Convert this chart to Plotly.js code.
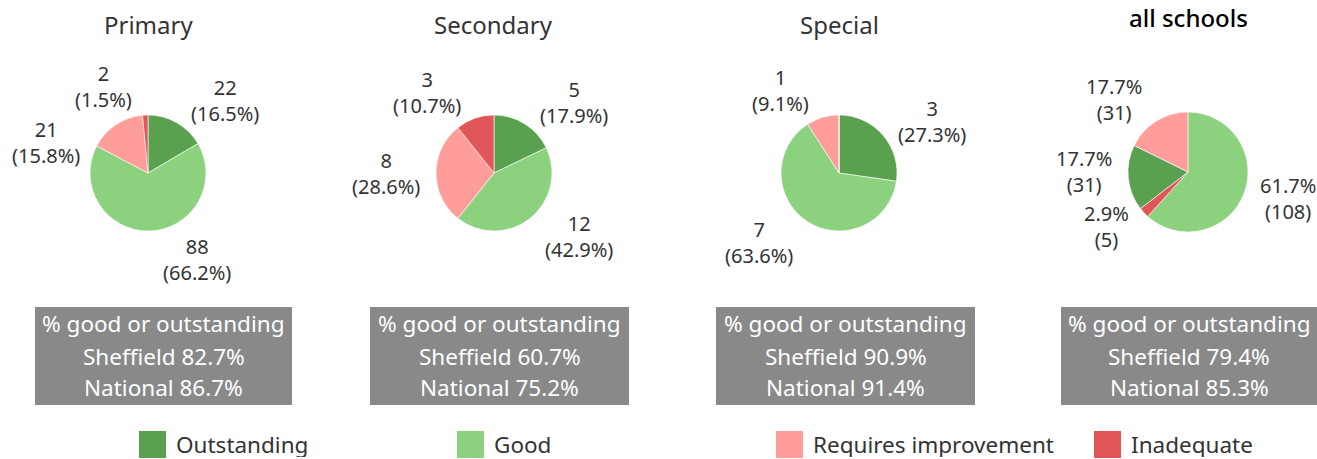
<!DOCTYPE html>
<html>
<head>
<meta charset="utf-8">
<script src="https://cdn.plot.ly/plotly-3.0.1.min.js"></script>
<style>
  html, body { margin: 0; padding: 0; background: #ffffff; }
  #chart { width: 1317px; height: 459px; }
</style>
</head>
<body>
<div id="chart"></div>
<script>
// ---------- data ----------
const categories = ["Outstanding", "Good", "Requires improvement", "Inadequate"];
const colors = ["#59a14f", "#8cd17d", "#ff9d9a", "#e15759"];

const panelTitles = ["Primary", "Secondary", "Special", "all schools"];

const primaryValues    = [22, 88, 21, 2];
const secondaryValues  = [5, 12, 8, 3];
const specialValues    = [3, 7, 1, 0];
const allSchoolsValues = [31, 108, 31, 5];

// slice order (clockwise from 12 o'clock) for the "all schools" pie
const allSchoolsOrder = ["Good", "Inadequate", "Outstanding", "Requires improvement"];

const sheffieldPct = ["82.7%", "60.7%", "90.9%", "79.4%"];
const nationalPct  = ["86.7%", "75.2%", "91.4%", "85.3%"];

// ---------- layout geometry ----------
const W = 1317, H = 459;
const FONT = "Noto Sans, Open Sans, sans-serif";
const LABEL_SIZE = 20;
const pies = [
  {cx: 148,  cy: 173, r: 58, values: primaryValues,    order: categories,      pctFirst: false},
  {cx: 494,  cy: 173, r: 58, values: secondaryValues,  order: categories,      pctFirst: false},
  {cx: 839,  cy: 173, r: 58, values: specialValues,    order: categories,      pctFirst: false},
  {cx: 1188, cy: 172, r: 60, values: allSchoolsValues, order: allSchoolsOrder, pctFirst: true}
];
const boxes = [
  {x0: 35, x1: 292}, {x0: 370, x1: 629}, {x0: 716, x1: 975}, {x0: 1061, x1: 1317}
];
const boxY0 = 307, boxY1 = 405;
const legendX = [139, 457, 776, 1094];

function dom(cx, cy, r) {
  return {x: [(cx - r) / W, (cx + r) / W], y: [(H - cy - r) / H, (H - cy + r) / H]};
}

// text measuring for label placement
const ctx = document.createElement("canvas").getContext("2d");
ctx.font = LABEL_SIZE + "px 'Noto Sans'";
function textBox(lines) {
  const w = Math.max(...lines.map(l => ctx.measureText(l).width));
  return {w: w, h: lines.length * LABEL_SIZE * 1.3};
}

// outside-label position for a given angle (same rule plotly uses for outside pie text)
function labelCenter(p, ang, box) {
  const R = p.r + 3;
  const px = R * Math.sin(ang), py = -R * Math.cos(ang);
  let dx = box.w / 2, dy = box.h / 2;
  if (px < 0) dx = -dx;
  if (py < 0) dy = -dy;
  const ox = dx + Math.abs(dy) * (dx > 0 ? 1 : -1) / 2;
  const oy = dy / (1 + (px * px) / (py * py));
  return {x: p.cx + px + ox, y: p.cy + py + oy};
}
function overlaps(a, b) {
  return Math.abs(a.x - b.x) < (a.w + b.w) / 2 + 3 && Math.abs(a.y - b.y) < (a.h + b.h) / 2 + 3;
}

const traces = [];
const annotations = [];
const shapes = [];

pies.forEach((p, i) => {
  const labels = p.order.slice();
  const vals = labels.map(l => p.values[categories.indexOf(l)]);
  const cols = labels.map(l => colors[categories.indexOf(l)]);
  traces.push({
    type: "pie", labels: labels, values: vals,
    sort: false, direction: "clockwise", rotation: 0,
    marker: {colors: cols, line: {color: "#ffffff", width: 0.6}},
    textinfo: "none",
    showlegend: false,
    hoverinfo: "label+value+percent",
    domain: dom(p.cx, p.cy, p.r)
  });

  // slice labels: value and percent, placed outside each slice
  const total = vals.reduce((a, b) => a + b, 0);
  let cum = 0;
  const items = vals.map((v, k) => {
    const a0 = cum / total * 2 * Math.PI;
    cum += v;
    const a1 = cum / total * 2 * Math.PI;
    const pct = (v / total * 100).toFixed(1) + "%";
    const lines = p.pctFirst ? [pct, "(" + v + ")"] : [String(v), "(" + pct + ")"];
    return {v: v, a0: a0, a1: a1, lines: lines, box: textBox(lines)};
  }).filter(it => it.v > 0);

  // small slices are labelled first; larger ones slide their label round if it would collide
  const placed = [];
  items.slice().sort((a, b) => a.v - b.v).forEach(it => {
    const mid = (it.a0 + it.a1) / 2;
    const step = Math.PI / 180;
    let best = null;
    for (let k = 0; k <= 70 && !best; k++) {
      for (const s of [1, -1]) {
        const ang = mid + s * k * step;
        const c = labelCenter(p, ang, it.box);
        const cand = {x: c.x, y: c.y, w: it.box.w, h: it.box.h};
        if (!placed.some(q => overlaps(q, cand))) { best = cand; break; }
      }
    }
    if (!best) {
      const c = labelCenter(p, mid, it.box);
      best = {x: c.x, y: c.y, w: it.box.w, h: it.box.h};
    }
    placed.push(best);
    annotations.push({
      text: it.lines.join("<br>"),
      x: best.x / W, y: 1 - best.y / H,
      xref: "paper", yref: "paper", xanchor: "center", yanchor: "middle",
      showarrow: false, borderpad: 0,
      font: {family: FONT, size: LABEL_SIZE, color: "#333333"}
    });
  });
});

// panel titles
pies.forEach((p, i) => {
  const last = i === 3;
  annotations.push({
    text: panelTitles[i],
    x: p.cx / W, y: 1 - (last ? 18 : 25) / H,
    xref: "paper", yref: "paper", xanchor: "center", yanchor: "middle",
    showarrow: false,
    font: {family: FONT, size: 24, color: last ? "#000000" : "#333333", weight: last ? 500 : 400}
  });
});

// summary boxes
boxes.forEach((b, i) => {
  shapes.push({
    type: "rect", xref: "paper", yref: "paper",
    x0: b.x0 / W, x1: b.x1 / W, y0: 1 - boxY1 / H, y1: 1 - boxY0 / H,
    fillcolor: "#898989", line: {width: 0}, layer: "below"
  });
  const lines = ["% good or outstanding", "Sheffield " + sheffieldPct[i], "National " + nationalPct[i]];
  const ys = [323, 356, 387];
  lines.forEach((t, k) => {
    annotations.push({
      text: t, x: (b.x0 + b.x1) / 2 / W, y: 1 - ys[k] / H,
      xref: "paper", yref: "paper", xanchor: "center", yanchor: "middle",
      showarrow: false,
      font: {family: FONT, size: 22.5, color: "#ffffff"}
    });
  });
});

// legend
categories.forEach((c, i) => {
  const x = legendX[i];
  shapes.push({
    type: "rect", xref: "paper", yref: "paper",
    x0: x / W, x1: (x + 27) / W, y0: 1 - 458 / H, y1: 1 - 431 / H,
    fillcolor: colors[i], line: {width: 0}
  });
  annotations.push({
    text: c, x: (x + 36) / W, y: 1 - 444 / H,
    xref: "paper", yref: "paper", xanchor: "left", yanchor: "middle",
    showarrow: false, height: 26, valign: "middle", borderpad: 0,
    font: {family: FONT, size: 22.5, color: "#333333"}
  });
});

const layout = {
  width: W, height: H,
  margin: {l: 0, r: 0, t: 0, b: 0},
  paper_bgcolor: "#ffffff",
  plot_bgcolor: "#ffffff",
  showlegend: false,
  annotations: annotations,
  shapes: shapes
};

Plotly.newPlot("chart", traces, layout, {displayModeBar: false, staticPlot: true});
</script>
</body>
</html>
